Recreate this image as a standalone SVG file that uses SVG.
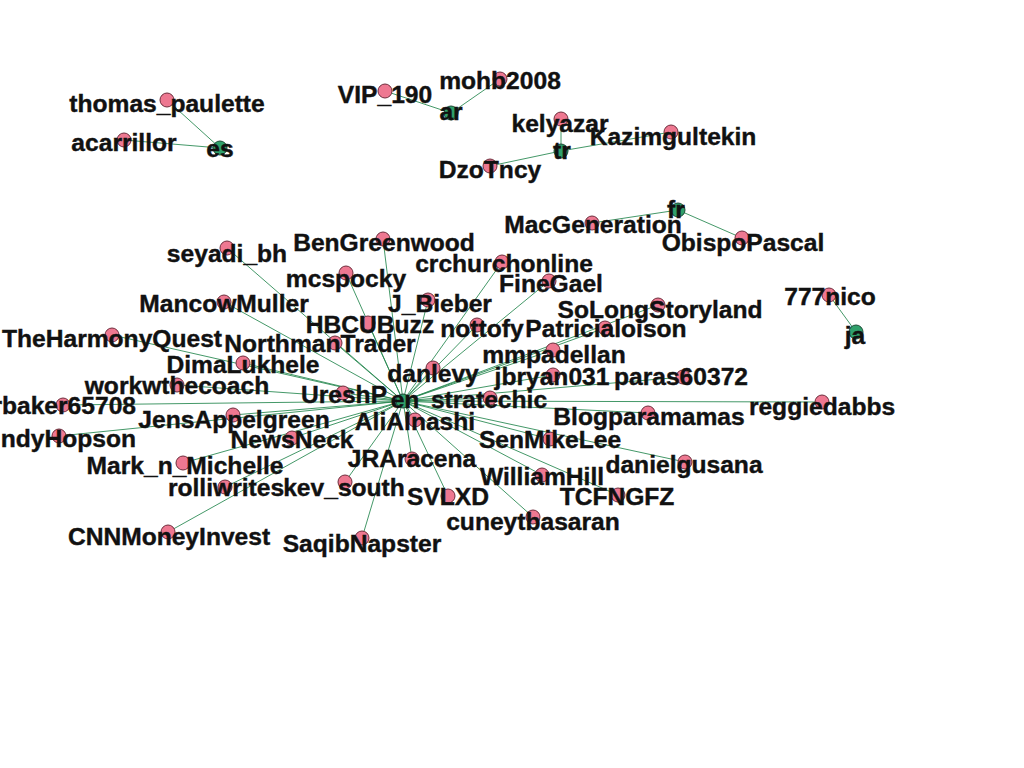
<svg xmlns="http://www.w3.org/2000/svg" width="1024" height="768" viewBox="0 0 1024 768">
<style>
.e{stroke:#23864d;stroke-width:1;stroke-opacity:0.85;fill:none}
.p{fill:#ee7891;stroke:#6e2d3c;stroke-width:1}
.g{fill:#2fa06b;stroke:#1d4a36;stroke-width:1}
text{font-family:"Liberation Sans",Arial,sans-serif;font-weight:bold;font-size:24.6px;fill:#111;stroke:#111;stroke-width:0.4;text-anchor:middle}
</style>
<rect width="1024" height="768" fill="#fff"/>
<g id="edges">
<line class="e" x1="220" y1="148" x2="167" y2="100"/>
<line class="e" x1="220" y1="148" x2="124" y2="140"/>
<line class="e" x1="451" y1="113" x2="385" y2="91"/>
<line class="e" x1="451" y1="113" x2="500" y2="79"/>
<line class="e" x1="561" y1="151" x2="561" y2="119"/>
<line class="e" x1="561" y1="151" x2="671" y2="132"/>
<line class="e" x1="561" y1="151" x2="490" y2="166"/>
<line class="e" x1="678" y1="210" x2="592" y2="223"/>
<line class="e" x1="678" y1="210" x2="742" y2="238"/>
<line class="e" x1="856" y1="332" x2="829" y2="295"/>
<line class="e" x1="403" y1="401" x2="227" y2="248"/>
<line class="e" x1="403" y1="401" x2="383" y2="239"/>
<line class="e" x1="403" y1="401" x2="502" y2="262"/>
<line class="e" x1="403" y1="401" x2="346" y2="273"/>
<line class="e" x1="403" y1="401" x2="549" y2="281"/>
<line class="e" x1="403" y1="401" x2="224" y2="302"/>
<line class="e" x1="403" y1="401" x2="428" y2="300"/>
<line class="e" x1="403" y1="401" x2="658" y2="305"/>
<line class="e" x1="403" y1="401" x2="112" y2="335"/>
<line class="e" x1="403" y1="401" x2="368" y2="323"/>
<line class="e" x1="403" y1="401" x2="477" y2="325"/>
<line class="e" x1="403" y1="401" x2="605" y2="328"/>
<line class="e" x1="403" y1="401" x2="335" y2="343"/>
<line class="e" x1="403" y1="401" x2="243" y2="363"/>
<line class="e" x1="403" y1="401" x2="553" y2="350"/>
<line class="e" x1="403" y1="401" x2="433" y2="368"/>
<line class="e" x1="403" y1="401" x2="177" y2="385"/>
<line class="e" x1="403" y1="401" x2="343" y2="393"/>
<line class="e" x1="403" y1="401" x2="553" y2="375"/>
<line class="e" x1="403" y1="401" x2="683" y2="377"/>
<line class="e" x1="403" y1="401" x2="490" y2="398"/>
<line class="e" x1="403" y1="401" x2="63" y2="405"/>
<line class="e" x1="403" y1="401" x2="822" y2="402"/>
<line class="e" x1="403" y1="401" x2="233" y2="415"/>
<line class="e" x1="403" y1="401" x2="415" y2="420"/>
<line class="e" x1="403" y1="401" x2="648" y2="413"/>
<line class="e" x1="403" y1="401" x2="59" y2="436"/>
<line class="e" x1="403" y1="401" x2="292" y2="438"/>
<line class="e" x1="403" y1="401" x2="550" y2="439"/>
<line class="e" x1="403" y1="401" x2="183" y2="463"/>
<line class="e" x1="403" y1="401" x2="412" y2="459"/>
<line class="e" x1="403" y1="401" x2="685" y2="462"/>
<line class="e" x1="403" y1="401" x2="542" y2="475"/>
<line class="e" x1="403" y1="401" x2="225" y2="487"/>
<line class="e" x1="403" y1="401" x2="345" y2="482"/>
<line class="e" x1="403" y1="401" x2="448" y2="496"/>
<line class="e" x1="403" y1="401" x2="618" y2="495"/>
<line class="e" x1="403" y1="401" x2="533" y2="517"/>
<line class="e" x1="403" y1="401" x2="168" y2="532"/>
<line class="e" x1="403" y1="401" x2="362" y2="538"/>
</g>
<g id="n_thomas_paulette"><circle class="p" cx="167" cy="100" r="7"/><text x="167" y="112">thomas_paulette</text></g>
<g id="n_acarrillor"><circle class="p" cx="124" cy="140" r="7"/><text x="124" y="151">acarrillor</text></g>
<g id="n_es"><circle class="g" cx="220" cy="148" r="7"/><text x="220" y="157">es</text></g>
<g id="n_VIP_190"><circle class="p" cx="385" cy="91" r="7"/><text x="385" y="103">VIP_190</text></g>
<g id="n_mohb2008"><circle class="p" cx="500" cy="79" r="7"/><text x="500" y="89">mohb2008</text></g>
<g id="n_ar"><circle class="g" cx="451" cy="113" r="7"/><text x="451" y="120">ar</text></g>
<g id="n_kelyazar"><circle class="p" cx="561" cy="119" r="7"/><text x="560" y="132">kelyazar</text></g>
<g id="n_Kazimgultekin"><circle class="p" cx="671" cy="132" r="7"/><text x="673" y="145">Kazimgultekin</text></g>
<g id="n_tr"><circle class="g" cx="561" cy="151" r="7"/><text x="562" y="159">tr</text></g>
<g id="n_DzoTncy"><circle class="p" cx="490" cy="166" r="7"/><text x="490" y="178">DzoTncy</text></g>
<g id="n_fr"><circle class="g" cx="678" cy="210" r="7"/><text x="676" y="218">fr</text></g>
<g id="n_MacGeneration"><circle class="p" cx="592" cy="223" r="7"/><text x="593" y="233">MacGeneration</text></g>
<g id="n_ObispoPascal"><circle class="p" cx="742" cy="238" r="7"/><text x="743" y="251">ObispoPascal</text></g>
<g id="n_777nico"><circle class="p" cx="829" cy="295" r="7"/><text x="830" y="305">777nico</text></g>
<g id="n_ja"><circle class="g" cx="856" cy="332" r="7"/><text x="855" y="344">ja</text></g>
<g id="n_reggiedabbs"><circle class="p" cx="822" cy="402" r="7"/><text x="822" y="415">reggiedabbs</text></g>
<g id="n_seyadi_bh"><circle class="p" cx="227" cy="248" r="7"/><text x="227" y="262">seyadi_bh</text></g>
<g id="n_BenGreenwood"><circle class="p" cx="383" cy="239" r="7"/><text x="384" y="251">BenGreenwood</text></g>
<g id="n_crchurchonline"><circle class="p" cx="502" cy="262" r="7"/><text x="504" y="272">crchurchonline</text></g>
<g id="n_mcspocky"><circle class="p" cx="346" cy="273" r="7"/><text x="346" y="287">mcspocky</text></g>
<g id="n_FineGael"><circle class="p" cx="549" cy="281" r="7"/><text x="551" y="292">FineGael</text></g>
<g id="n_MancowMuller"><circle class="p" cx="224" cy="302" r="7"/><text x="224" y="312">MancowMuller</text></g>
<g id="n_J_Bieber"><circle class="p" cx="428" cy="300" r="7"/><text x="440" y="312">J_Bieber</text></g>
<g id="n_SoLongStoryland"><circle class="p" cx="658" cy="305" r="7"/><text x="660" y="318">SoLongStoryland</text></g>
<g id="n_TheHarmonyQuest"><circle class="p" cx="112" cy="335" r="7"/><text x="112" y="347">TheHarmonyQuest</text></g>
<g id="n_HBCUBuzz"><circle class="p" cx="368" cy="323" r="7"/><text x="370" y="333">HBCUBuzz</text></g>
<g id="n_nottofy"><circle class="p" cx="477" cy="325" r="7"/><text x="482" y="337">nottofy</text></g>
<g id="n_Patricialoison"><circle class="p" cx="605" cy="328" r="7"/><text x="606" y="337">Patricialoison</text></g>
<g id="n_NorthmanTrader"><circle class="p" cx="335" cy="343" r="7"/><text x="320" y="352">NorthmanTrader</text></g>
<g id="n_DimaLukhele"><circle class="p" cx="243" cy="363" r="7"/><text x="243" y="373">DimaLukhele</text></g>
<g id="n_mmpadellan"><circle class="p" cx="553" cy="350" r="7"/><text x="554" y="363">mmpadellan</text></g>
<g id="n_danlevy"><circle class="p" cx="433" cy="368" r="7"/><text x="433" y="382">danlevy</text></g>
<g id="n_workwthecoach"><circle class="p" cx="177" cy="385" r="7"/><text x="177" y="394">workwthecoach</text></g>
<g id="n_UreshP"><circle class="p" cx="343" cy="393" r="7"/><text x="344" y="403">UreshP</text></g>
<g id="n_jbryan031"><circle class="p" cx="553" cy="375" r="7"/><text x="552" y="385">jbryan031</text></g>
<g id="n_paras60372"><circle class="p" cx="683" cy="377" r="7"/><text x="681" y="385">paras60372</text></g>
<g id="n_stratechic"><circle class="p" cx="490" cy="398" r="7"/><text x="489" y="408">stratechic</text></g>
<g id="n_rbaker65708"><circle class="p" cx="63" cy="405" r="7"/><text x="136" y="414" style="text-anchor:end">rbaker65708</text></g>
<g id="n_JensAppelgreen"><circle class="p" cx="233" cy="415" r="7"/><text x="234" y="428">JensAppelgreen</text></g>
<g id="n_AliAlnashi"><circle class="p" cx="415" cy="420" r="7"/><text x="415" y="430">AliAlnashi</text></g>
<g id="n_Blogparamamas"><circle class="p" cx="648" cy="413" r="7"/><text x="649" y="425">Blogparamamas</text></g>
<g id="n_ndyHopson"><circle class="p" cx="59" cy="436" r="7"/><text x="136" y="447" style="text-anchor:end">ndyHopson</text></g>
<g id="n_NewsNeck"><circle class="p" cx="292" cy="438" r="7"/><text x="292" y="448">NewsNeck</text></g>
<g id="n_SenMikeLee"><circle class="p" cx="550" cy="439" r="7"/><text x="550" y="448">SenMikeLee</text></g>
<g id="n_Mark_n_Michelle"><circle class="p" cx="183" cy="463" r="7"/><text x="185" y="474">Mark_n_Michelle</text></g>
<g id="n_JRAracena"><circle class="p" cx="412" cy="459" r="7"/><text x="412" y="467">JRAracena</text></g>
<g id="n_danielgusana"><circle class="p" cx="685" cy="462" r="7"/><text x="684" y="473">danielgusana</text></g>
<g id="n_WilliamHill"><circle class="p" cx="542" cy="475" r="7"/><text x="542" y="485">WilliamHill</text></g>
<g id="n_rolliwrites"><circle class="p" cx="225" cy="487" r="7"/><text x="226" y="496">rolliwrites</text></g>
<g id="n_kev_south"><circle class="p" cx="345" cy="482" r="7"/><text x="344" y="496">kev_south</text></g>
<g id="n_SVLXD"><circle class="p" cx="448" cy="496" r="7"/><text x="448" y="505">SVLXD</text></g>
<g id="n_TCFNGFZ"><circle class="p" cx="618" cy="495" r="7"/><text x="617" y="505">TCFNGFZ</text></g>
<g id="n_cuneytbasaran"><circle class="p" cx="533" cy="517" r="7"/><text x="533" y="530">cuneytbasaran</text></g>
<g id="n_CNNMoneyInvest"><circle class="p" cx="168" cy="532" r="7"/><text x="169" y="545">CNNMoneyInvest</text></g>
<g id="n_SaqibNapster"><circle class="p" cx="362" cy="538" r="7"/><text x="362" y="552">SaqibNapster</text></g>
<g id="n_en"><circle class="g" cx="403" cy="401" r="7"/><text x="405" y="408">en</text></g>
</svg>
